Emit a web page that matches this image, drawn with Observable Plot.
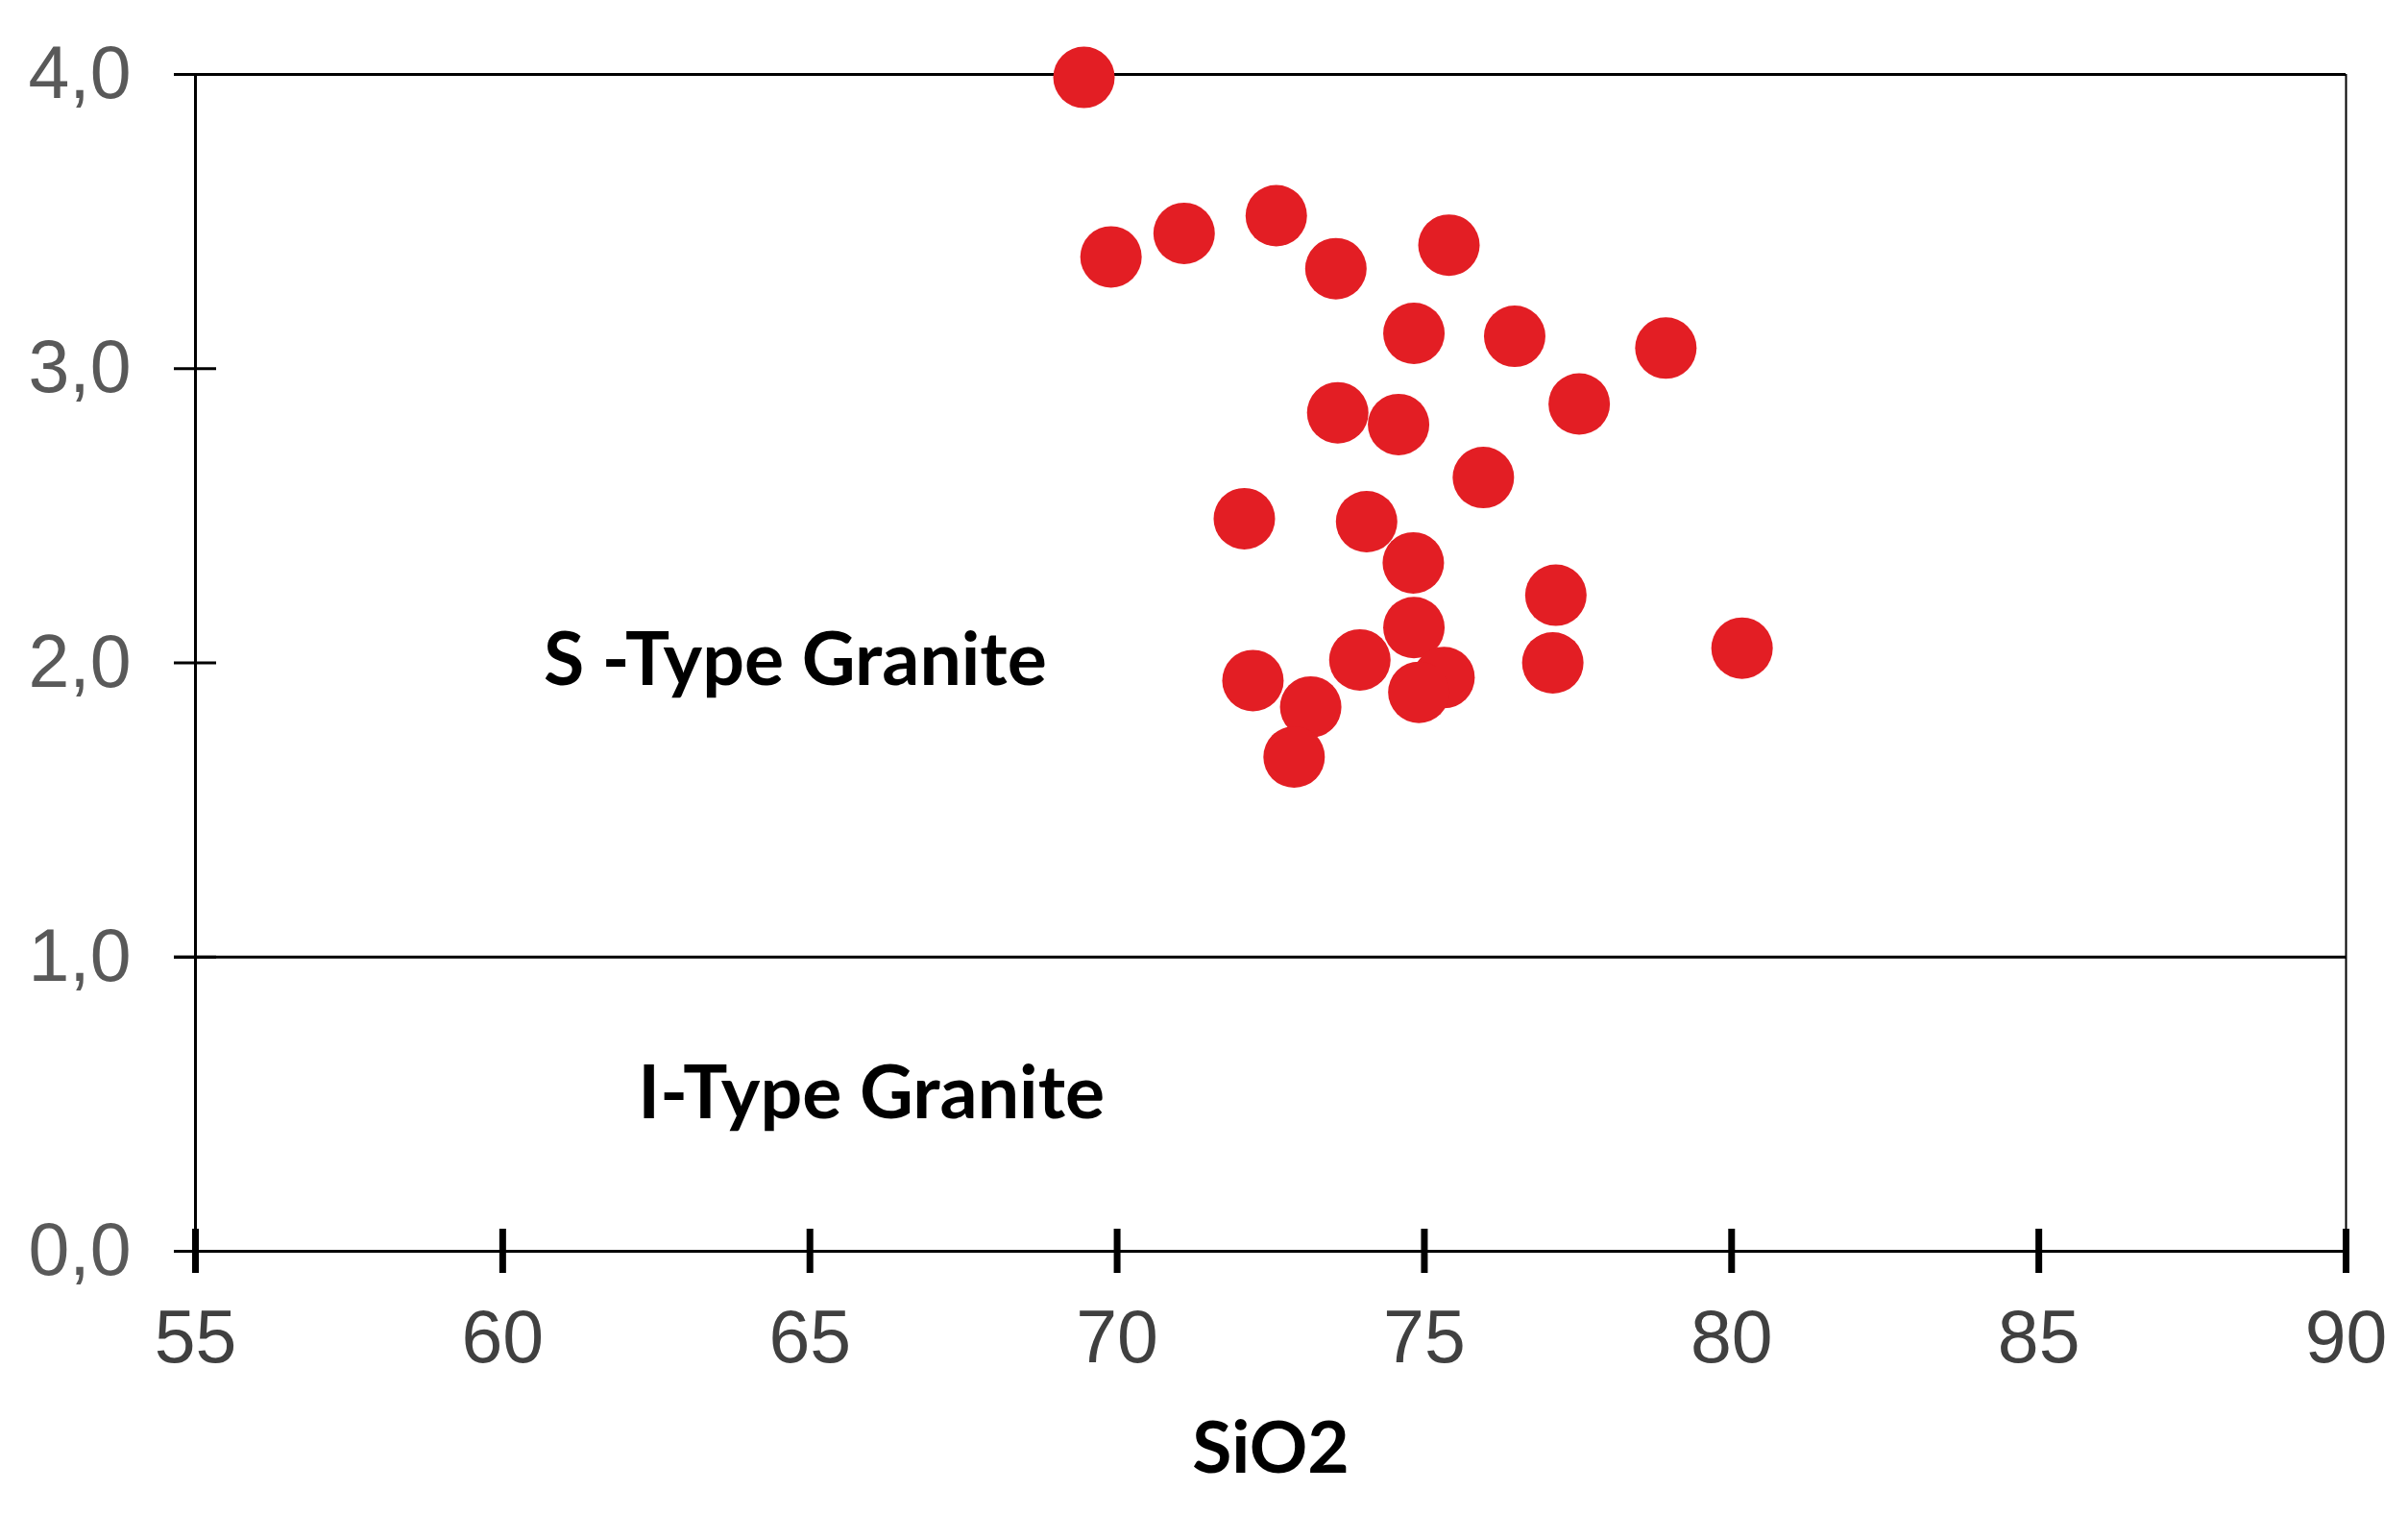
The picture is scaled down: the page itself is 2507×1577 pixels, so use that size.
<!DOCTYPE html>
<html><head><meta charset="utf-8">
<script src="https://cdn.jsdelivr.net/npm/d3@7"></script>
<script src="https://cdn.jsdelivr.net/npm/@observablehq/plot@0.6"></script>
<style>html,body{margin:0;padding:0;background:#fff;}</style>
</head><body><div id="chart"></div>
<script>
// SiO2 (wt%) and ratio values
const sio2 = [69.46, 69.90, 71.09, 72.59, 73.56, 75.40, 74.83, 76.47, 78.93, 73.59, 74.58, 77.52, 75.96, 72.07, 74.06, 74.82, 77.14, 74.83, 73.95, 77.09, 80.17, 72.21, 75.32, 74.91, 73.15, 72.88];
const ratio = [3.99, 3.38, 3.46, 3.52, 3.34, 3.42, 3.12, 3.11, 3.07, 2.85, 2.81, 2.88, 2.63, 2.49, 2.48, 2.34, 2.23, 2.12, 2.01, 2.00, 2.05, 1.94, 1.95, 1.90, 1.85, 1.68];
const xTicks = [55, 60, 65, 70, 75, 80, 85, 90];
const yTicks = [0, 1, 2, 3, 4];
const boundaryLines = [0, 1, 4];
const fieldLabels = ["S -Type Granite", "I-Type Granite"];
const fieldX = [64.76, 66.0];
const fieldY = [2.005, 0.533];
const xTitle = "SiO2";

const points = sio2.map((x, i) => ({x, y: ratio[i]}));
const labels = fieldLabels.map((t, i) => ({t, x: fieldX[i], y: fieldY[i]}));

const plot = Plot.plot({
  width: 2507, height: 1577,
  marginLeft: 203, marginRight: 65, marginTop: 77, marginBottom: 275,
  style: {background: "#fff", fontFamily: "'Liberation Sans', Arial, sans-serif", overflow: "visible"},
  x: {domain: [55, 90]},
  y: {domain: [0, 4]},
  marks: [
    Plot.axisX(xTicks, {tickSize: 0, tickPadding: 61, fontSize: 77, fill: "#404040", tickFormat: d => String(d), label: null}),
    Plot.axisY(yTicks, {tickSize: 0, tickPadding: 67, fontSize: 77, fill: "#595959", tickFormat: d => d.toFixed(1).replace(".", ","), label: null}),
    Plot.ruleY(boundaryLines, {stroke: "#000", strokeWidth: 3, insetLeft: -22}),
    Plot.ruleY(yTicks, {x1: 55, x2: 55, insetLeft: -22, insetRight: -22, stroke: "#000", strokeWidth: 3}),
    Plot.ruleX([55], {stroke: "#000", strokeWidth: 3}),
    Plot.ruleX([90], {stroke: "#000", strokeWidth: 2}),
    Plot.ruleX(xTicks, {y1: 0, y2: 0, insetTop: -23, insetBottom: -23, stroke: "#000", strokeWidth: 7}),
    Plot.text(labels, {x: "x", y: "y", text: "t", fontSize: 77, fontWeight: "bold", fontFamily: "Lato", fill: "#000", lineAnchor: "middle"}),
    Plot.text([xTitle], {frameAnchor: "bottom", lineAnchor: "middle", text: d => d, dy: 206, fontSize: 75, fontWeight: "bold", fontFamily: "Lato", fill: "#000"}),
    Plot.dot(points, {x: "x", y: "y", r: 32, fill: "#e31e24"})
  ]
});
document.getElementById("chart").appendChild(plot);
</script>
</body></html>
